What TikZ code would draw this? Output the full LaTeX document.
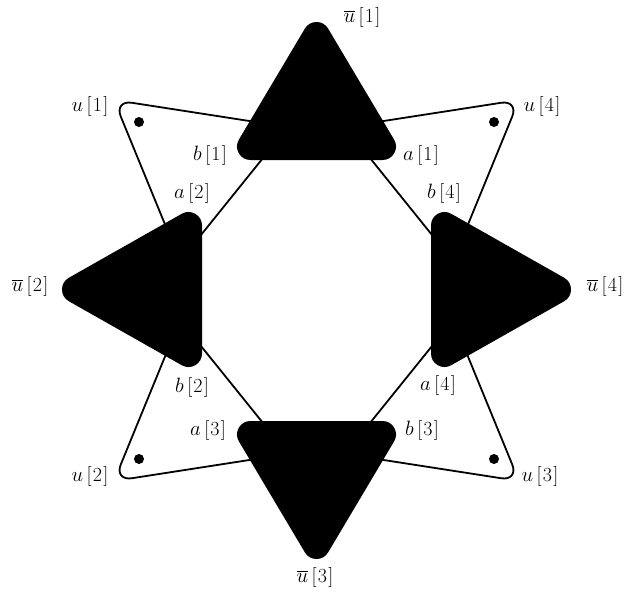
\documentclass[tikz,border=0pt]{standalone}
\newcommand{\lbtext}[2]{$#1$\hspace{3.5pt}[\hspace{1.2pt}#2\hspace{1.2pt}]}
\begin{document}
\begin{tikzpicture}[x=1pt,y=-1pt,
  blacktri/.style={fill=black,draw=black,line width=27pt,line join=round},
  whitetri/.style={fill=white,draw=black,line width=1.8pt,rounded corners=18pt},
  dotnode/.style={circle,fill=black,inner sep=0pt,minimum size=10pt},
  lbl/.style={font=\fontsize{20}{24}\selectfont,inner sep=0pt}]
\useasboundingbox (0,0) rectangle (627,597);
% white triangles
\draw[whitetri] (114,100) -- (288,127) -- (180,261) -- cycle;
\draw[whitetri] (519,100) -- (345,127) -- (453,261) -- cycle;
\draw[whitetri] (114,481) -- (288,454) -- (180,320) -- cycle;
\draw[whitetri] (519,481) -- (345,454) -- (453,320) -- cycle;
\node[dotnode] (d1) at (139,122) {};
\node[dotnode] (d4) at (494,122) {};
\node[dotnode] (d2) at (139,459) {};
\node[dotnode] (d3) at (494,459) {};
% black triangles
\fill[blacktri] (316.5,35.5) -- (250.5,146.5) -- (382.5,146.5) -- cycle;
\fill[blacktri] (316.5,545.5) -- (250.5,434.5) -- (382.5,434.5) -- cycle;
\fill[blacktri] (75.5,289.5) -- (188.5,225.5) -- (188.5,353.5) -- cycle;
\fill[blacktri] (557.5,289.5) -- (444.5,225.5) -- (444.5,353.5) -- cycle;
% labels
\node[lbl] (ub1) at (362,17) {\lbtext{\overline{u}}{1}};
\node[lbl] (ub2) at (30,286) {\lbtext{\overline{u}}{2}};
\node[lbl] (ub3) at (315,577) {\lbtext{\overline{u}}{3}};
\node[lbl] (ub4) at (605,286) {\lbtext{\overline{u}}{4}};
\node[lbl] (u1) at (90,106) {\lbtext{u}{1}};
\node[lbl] (u2) at (90,476) {\lbtext{u}{2}};
\node[lbl] (u3) at (540,476) {\lbtext{u}{3}};
\node[lbl] (u4) at (542,106) {\lbtext{u}{4}};
\node[lbl] (b1) at (210,155) {\lbtext{b}{1}};
\node[lbl] (a1) at (421,155) {\lbtext{a}{1}};
\node[lbl] (a2) at (192,193) {\lbtext{a}{2}};
\node[lbl] (b4) at (444,193) {\lbtext{b}{4}};
\node[lbl] (b2) at (192,387) {\lbtext{b}{2}};
\node[lbl] (a4) at (438,385) {\lbtext{a}{4}};
\node[lbl] (a3) at (208,430) {\lbtext{a}{3}};
\node[lbl] (b3) at (422,430) {\lbtext{b}{3}};
\end{tikzpicture}
\end{document}
